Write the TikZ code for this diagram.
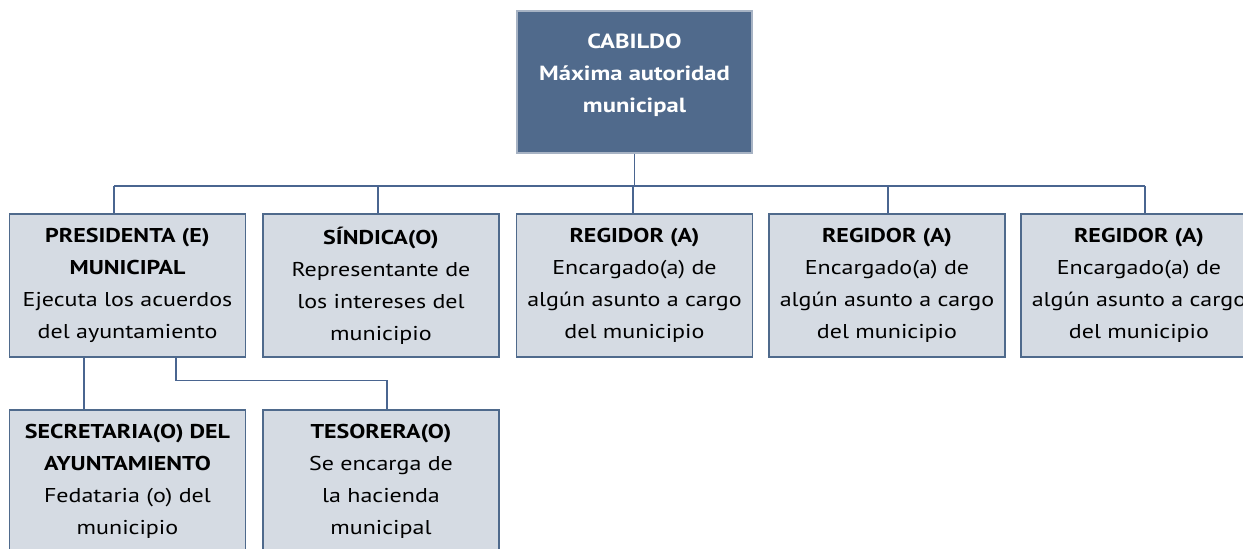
\documentclass[tikz,border=0pt]{standalone}
\usepackage{fontspec}
\setmainfont{PT Sans}[FakeStretch=1.2]
\usetikzlibrary{calc}
\definecolor{topfill}{HTML}{506A8C}
\definecolor{topborder}{HTML}{A7B3C4}
\definecolor{boxfill}{HTML}{D5DBE3}
\definecolor{boxborder}{HTML}{4F6A8C}
\definecolor{linec}{HTML}{4A6590}
\tikzset{
  orgbox/.style={draw=boxborder, fill=boxfill, line width=1.2pt, minimum width=236pt, minimum height=143pt, inner sep=0pt, align=center, text=black, font=\fontsize{20}{32}\selectfont},
  topbox/.style={draw=topborder, fill=topfill, line width=1.5pt, minimum width=235pt, minimum height=142pt, inner sep=0pt, align=center, text=white, text depth=17pt, font=\fontsize{20.5}{32}\selectfont\bfseries},
  conn/.style={draw=linec, line width=1.3pt}
}
\begin{document}
\begin{tikzpicture}[x=1pt,y=-1pt]
\useasboundingbox (0,0) rectangle (1243,549);
\node[topbox] (top) at (634.5,82) {CABILDO\\Máxima autoridad\\municipal};
\node[orgbox] (b1) at (127.5,285.5) {\textbf{PRESIDENTA (E)}\\\textbf{MUNICIPAL}\\Ejecuta los acuerdos\\del ayuntamiento};
\node[orgbox] (b2) at (381,285.5) {\textbf{SÍNDICA(O)}\\Representante de\\los intereses del\\municipio};
\node[orgbox] (b3) at (634.5,285.5) {\textbf{REGIDOR (A)}\\Encargado(a) de\\algún asunto a cargo\\del municipio};
\node[orgbox] (b4) at (887,285.5) {\textbf{REGIDOR (A)}\\Encargado(a) de\\algún asunto a cargo\\del municipio};
\node[orgbox] (b5) at (1139,285.5) {\textbf{REGIDOR (A)}\\Encargado(a) de\\algún asunto a cargo\\del municipio};
\node[orgbox] (b6) at (127.5,481.5) {\textbf{SECRETARIA(O) DEL}\\\textbf{AYUNTAMIENTO}\\Fedataria (o) del\\municipio};
\node[orgbox] (b7) at (381,481.5) {\textbf{TESORERA(O)}\\Se encarga de\\la hacienda\\municipal};
\coordinate (busL) at (114,186);
\coordinate (busR) at (1145,186);
\draw[conn] (top.south) -- (top.south |- busL);
\draw[conn] (busL) -- (busR);
\draw[conn] (busL) -- (busL |- b1.north);
\draw[conn] ([xshift=-3pt]b2.north) -- ([xshift=-3pt]b2.north |- busL);
\draw[conn] ([xshift=-1.5pt]b3.north) -- ([xshift=-1.5pt]b3.north |- busL);
\draw[conn] ([xshift=1pt]b4.north) -- ([xshift=1pt]b4.north |- busL);
\draw[conn] (busR) -- (busR |- b5.north);
\draw[conn] ([xshift=-43.5pt]b1.south) -- ([xshift=-43.5pt]b6.north);
\draw[conn] ([xshift=48.5pt]b1.south) |- ($([xshift=6pt]b7.north)+(0,-29)$) -- ([xshift=6pt]b7.north);
\end{tikzpicture}
\end{document}
